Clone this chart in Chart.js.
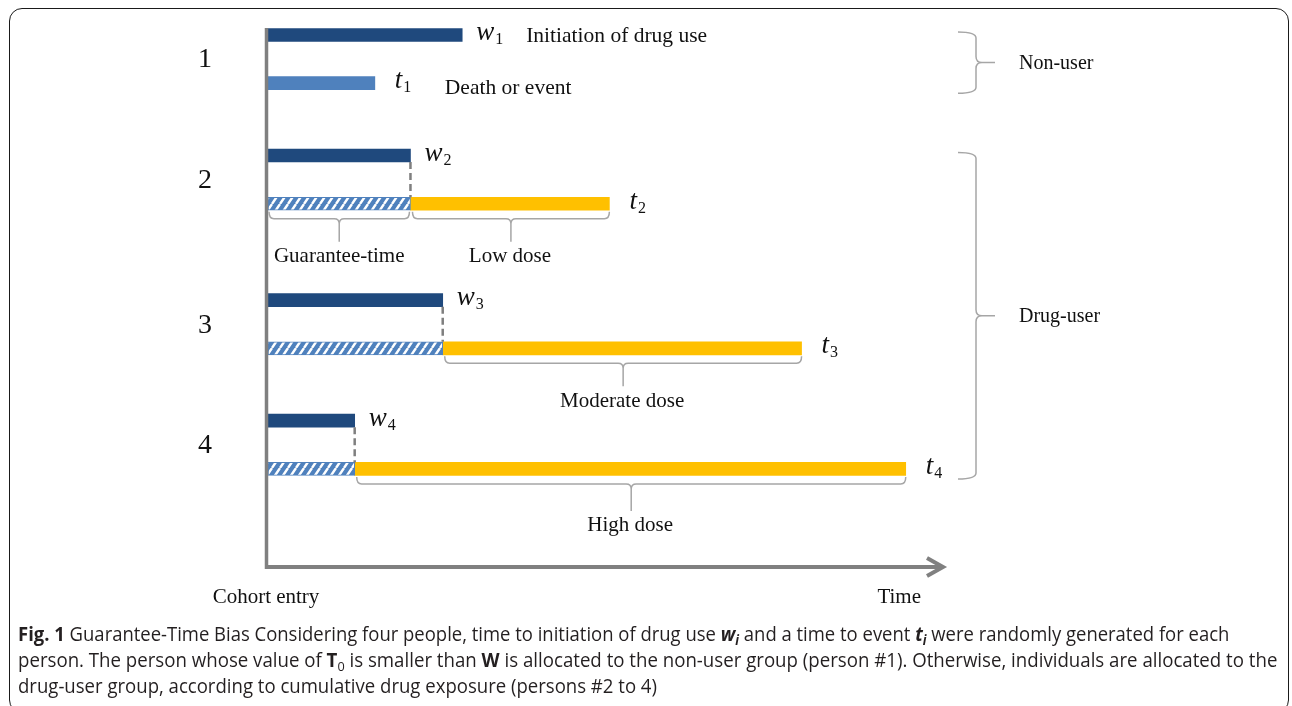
<!DOCTYPE html>
<html><head><meta charset="utf-8">
<script src="https://cdn.jsdelivr.net/npm/chart.js@4/dist/chart.umd.min.js"></script>
<style>
html,body{margin:0;padding:0;background:#fff;width:1292px;height:706px;overflow:hidden;}
canvas{position:absolute;left:0;top:0;}
#frame{position:absolute;left:9px;top:8px;width:1280px;height:705px;border:1.6px solid #1a1a1a;border-radius:13px;box-sizing:border-box;}
.cap{position:absolute;left:18px;white-space:nowrap;font-family:"Open Sans",sans-serif;font-size:19.5px;color:#231f20;transform-origin:0 50%;line-height:26px;}
.cap sub{font-size:0.68em;vertical-align:-0.28em;line-height:0;}
</style></head>
<body>
<canvas id="c" width="1292" height="706"></canvas>
<div id="frame"></div>
<div class="cap" id="l1" style="top:621px"><b>Fig. 1</b> Guarantee-Time Bias Considering four people, time to initiation of drug use <b><i>w<sub>i</sub></i></b> and a time to event <b><i>t<sub>i</sub></i></b> were randomly generated for each</div>
<div class="cap" id="l2" style="top:647px">person. The person whose value of <b>T</b><sub>0</sub> is smaller than <b>W</b> is allocated to the non-user group (person #1). Otherwise, individuals are allocated to the</div>
<div class="cap" id="l3" style="top:673px">drug-user group, according to cumulative drug exposure (persons #2 to 4)</div>
<script>
// ---- data ----
const persons = ['1', '2', '3', '4'];
const initTime = [28.9, 21.2, 26.0, 12.9];   // w_i : time to initiation of drug use
const eventTime = [15.9, 50.8, 79.4, 94.9];  // t_i : time to death or event
const wLane = [0, 5, 11, 16];
const tLane = [2, 7, 13, 18];
const doseLabels = ['', 'Low dose', 'Moderate dose', 'High dose'];
const groupLabels = ['Non-user', 'Drug-user'];
const noteW = 'Initiation of drug use';
const noteT = 'Death or event';
const guaranteeLabel = 'Guarantee-time';
const axisLabels = ['Cohort entry', 'Time'];

// caption: ragged lines, one common horizontal scale
function fitCaption() {
  const ids = ['l1', 'l2', 'l3'];
  ids.forEach(id => { document.getElementById(id).style.transform = 'none'; });
  const s1 = 1211 / document.getElementById('l1').scrollWidth;
  const s2 = 1259 / document.getElementById('l2').scrollWidth;
  const s = (s1 + s2) / 2;
  document.getElementById('l1').style.transform = 'scaleX(' + s1 + ')';
  document.getElementById('l2').style.transform = 'scaleX(' + s2 + ')';
  document.getElementById('l3').style.transform = 'scaleX(' + s + ')';
}
fitCaption();
if (document.fonts && document.fonts.ready) document.fonts.ready.then(fitCaption);

const DARK = '#1F497D', LIGHT = '#4F81BD', GOLD = '#FFC000', AXIS = '#808080', BRACE = '#a6a6a6';

function hatch() {
  const w = 8, h = 12;
  const p = document.createElement('canvas');
  p.width = w; p.height = h;
  const g = p.getContext('2d');
  g.fillStyle = LIGHT; g.fillRect(0, 0, w, h);
  g.strokeStyle = '#ffffff'; g.lineWidth = 2.4;
  g.beginPath();
  for (let k = -1; k <= 1; k++) {
    g.moveTo(k * w, h); g.lineTo(k * w + w, 0);
  }
  g.stroke();
  return g.createPattern(p, 'repeat');
}

const isUser = persons.map((p, i) => eventTime[i] > initTime[i]);
const users = persons.map((p, i) => i).filter(i => isUser[i]);
const nonUsers = persons.map((p, i) => i).filter(i => !isUser[i]);

const ctx = document.getElementById('c').getContext('2d');

function hBrace(g, x1, x2, y, h) {
  const a = 7, r = 5, xm = (x1 + x2) / 2;
  g.beginPath();
  g.moveTo(x1, y);
  g.quadraticCurveTo(x1, y + a, x1 + r, y + a);
  g.lineTo(xm - r, y + a);
  g.quadraticCurveTo(xm, y + a, xm, y + a + r);
  g.lineTo(xm, y + h);
  g.moveTo(xm, y + a + r);
  g.quadraticCurveTo(xm, y + a, xm + r, y + a);
  g.lineTo(x2 - r, y + a);
  g.quadraticCurveTo(x2, y + a, x2, y);
  g.stroke();
}
function vBrace(g, x, y1, y2, a, w) {
  const r = 6, ym = (y1 + y2) / 2;
  g.beginPath();
  g.moveTo(x, y1);
  g.quadraticCurveTo(x + a, y1, x + a, y1 + r);
  g.lineTo(x + a, ym - r);
  g.quadraticCurveTo(x + a, ym, x + a + r, ym);
  g.lineTo(x + w, ym);
  g.moveTo(x + a + r, ym);
  g.quadraticCurveTo(x + a, ym, x + a, ym + r);
  g.lineTo(x + a, y2 - r);
  g.quadraticCurveTo(x + a, y2, x, y2);
  g.stroke();
}
function sym(g, letter, sub, x, yc) {
  g.textAlign = 'left'; g.textBaseline = 'alphabetic';
  g.fillStyle = '#111';
  g.font = 'italic 27px "Liberation Serif", serif';
  g.fillText(letter, x, yc + 5);
  const lw = g.measureText(letter).width;
  g.font = '16px "Liberation Serif", serif';
  g.fillText(sub, x + lw + 1, yc + 9);
}

const deco = {
  id: 'deco',
  afterDatasetsDraw(chart) {
    const g = chart.ctx, xs = chart.scales.x, ys = chart.scales.y, ca = chart.chartArea;
    const half = 6.5;
    g.save();
    // axes
    g.strokeStyle = AXIS; g.lineCap = 'butt';
    g.lineWidth = 3.5;
    g.beginPath(); g.moveTo(ca.left - 1.5, ca.top); g.lineTo(ca.left - 1.5, ca.bottom + 2); g.stroke();
    g.lineWidth = 4;
    g.beginPath(); g.moveTo(ca.left - 3, ca.bottom); g.lineTo(ca.right + 2, ca.bottom); g.stroke();
    g.lineJoin = 'miter';
    g.beginPath(); g.moveTo(ca.right - 13, ca.bottom - 9); g.lineTo(ca.right + 3, ca.bottom); g.lineTo(ca.right - 13, ca.bottom + 9); g.stroke();

    // dashed connectors for users
    g.strokeStyle = '#7f7f7f'; g.lineWidth = 2.5; g.setLineDash([7, 4]);
    users.forEach(i => {
      const x = xs.getPixelForValue(initTime[i]);
      g.beginPath(); g.moveTo(x, ys.getPixelForValue(wLane[i]) + half); g.lineTo(x, ys.getPixelForValue(tLane[i]) - half); g.stroke();
    });
    g.setLineDash([]);

    // braces under bars
    g.strokeStyle = BRACE; g.lineWidth = 1.5;
    g.font = '21px "Liberation Serif", serif'; g.fillStyle = '#111';
    g.textAlign = 'center'; g.textBaseline = 'middle';
    users.forEach((i, k) => {
      const yb = ys.getPixelForValue(tLane[i]) + half + 1.5;
      const h = k === users.length - 1 ? 34 : 30;
      const xw = xs.getPixelForValue(initTime[i]), xt = xs.getPixelForValue(eventTime[i]);
      if (k === 0) {
        hBrace(g, xs.getPixelForValue(0) + 1, xw - 1, yb, h);
        g.fillText(guaranteeLabel, (xs.getPixelForValue(0) + xw) / 2, yb + h + 15);
      }
      hBrace(g, xw + 2, xt, yb, h);
      g.fillText(doseLabels[i], (xw + xt) / 2, yb + h + 15);
    });

    // group braces on right
    const bx = ca.right + 18;
    const groups = [nonUsers, users];
    groups.forEach((grp, gi) => {
      const y1 = ys.getPixelForValue(wLane[grp[0]]) - 3;
      const y2 = ys.getPixelForValue(tLane[grp[grp.length - 1]]) + 10;
      g.strokeStyle = BRACE; g.lineWidth = 1.5;
      vBrace(g, bx, y1, y2, 18, 37);
      g.textAlign = 'left'; g.textBaseline = 'middle';
      g.font = '20px "Liberation Serif", serif'; g.fillStyle = '#111';
      g.fillText(groupLabels[gi], bx + 61, (y1 + y2) / 2 + 1);
    });

    // person numbers
    g.font = '28px "Liberation Serif", serif'; g.textAlign = 'center'; g.textBaseline = 'middle';
    persons.forEach((p, i) => {
      const ym = (ys.getPixelForValue(wLane[i]) + ys.getPixelForValue(tLane[i])) / 2;
      g.fillText(p, ca.left - 63, ym + 1);
    });

    // w / t symbols
    persons.forEach((p, i) => {
      sym(g, 'w', String(i + 1), xs.getPixelForValue(initTime[i]) + 14, ys.getPixelForValue(wLane[i]));
      sym(g, 't', String(i + 1), xs.getPixelForValue(eventTime[i]) + 20, ys.getPixelForValue(tLane[i]));
    });
    // notes for non-user
    g.font = '21.5px "Liberation Serif", serif'; g.textAlign = 'left'; g.textBaseline = 'middle'; g.fillStyle = '#111';
    nonUsers.forEach(i => {
      g.fillText(noteW, xs.getPixelForValue(initTime[i]) + 64, ys.getPixelForValue(wLane[i]) + 1);
      g.fillText(noteT, xs.getPixelForValue(eventTime[i]) + 70, ys.getPixelForValue(tLane[i]) + 5);
    });

    // axis labels
    g.font = '21px "Liberation Serif", serif'; g.textBaseline = 'middle';
    g.textAlign = 'center'; g.fillText(axisLabels[0], ca.left - 2, ca.bottom + 30);
    g.textAlign = 'right'; g.fillText(axisLabels[1], ca.right - 19, ca.bottom + 30);
    g.restore();
  }
};

new Chart(ctx, {
  type: 'bar',
  data: {
    datasets: [
      { label: 'w', backgroundColor: DARK, data: persons.map((p, i) => ({ x: [0, initTime[i]], y: wLane[i] })) },
      { label: 't (non-user)', backgroundColor: LIGHT, data: nonUsers.map(i => ({ x: [0, eventTime[i]], y: tLane[i] })) },
      { label: 'Guarantee-time', backgroundColor: hatch(), borderColor: LIGHT, borderWidth: 1, borderSkipped: false, data: users.map(i => ({ x: [0, initTime[i]], y: tLane[i] })) },
      { label: 'Dose', backgroundColor: GOLD, data: users.map(i => ({ x: [initTime[i], eventTime[i]], y: tLane[i] })) }
    ]
  },
  options: {
    indexAxis: 'y',
    responsive: false,
    animation: false,
    devicePixelRatio: 1,
    datasets: { bar: { grouped: false, barThickness: 13 } },
    layout: { padding: { left: 268, right: 352, top: 28, bottom: 139 } },
    scales: {
      x: { type: 'linear', min: 0, max: 100, display: false },
      y: { type: 'linear', min: -0.29, max: 22.07, reverse: true, offset: false, display: false }
    },
    plugins: { legend: { display: false }, tooltip: { enabled: false } }
  },
  plugins: [deco]
});
</script>
</body></html>
